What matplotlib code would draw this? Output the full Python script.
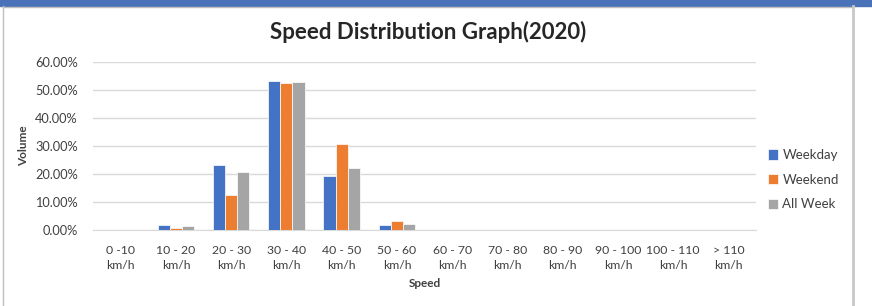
import numpy as np
import matplotlib
matplotlib.use("Agg")
import matplotlib.pyplot as plt
from matplotlib.patches import Rectangle
from matplotlib.lines import Line2D
from matplotlib.ticker import FuncFormatter

plt.rcParams['font.family'] = ['Lato', 'DejaVu Sans']

categories = ["0 -10\nkm/h", "10 - 20\nkm/h", "20 - 30\nkm/h", "30 - 40\nkm/h",
              "40 - 50\nkm/h", "50 - 60\nkm/h", "60 - 70\nkm/h", "70 - 80\nkm/h",
              "80 - 90\nkm/h", "90 - 100\nkm/h", "100 - 110\nkm/h", "> 110\nkm/h"]
weekday = [0.0, 1.9, 23.2, 53.1, 19.3, 1.7, 0.1, 0, 0, 0, 0, 0]
weekend = [0.0, 0.7, 12.5, 52.4, 30.8, 3.1, 0.05, 0, 0, 0, 0, 0]
all_week = [0.0, 1.5, 20.6, 52.9, 22.3, 2.0, 0.1, 0, 0, 0, 0, 0]
series = [("Weekday", weekday, "#4472C4"),
          ("Weekend", weekend, "#ED7D31"),
          ("All Week", all_week, "#A5A5A5")]

W, H = 872, 306
fig = plt.figure(figsize=(W / 100, H / 100), dpi=100)

# frame decorations (blue band, chart border)
fig.patches.append(Rectangle((0, 1 - 6 / H), 1, 6 / H, transform=fig.transFigure,
                             color="#4A72B8", zorder=0))
fig.lines.append(Line2D([3 / W, 3 / W], [0, 1 - 6 / H], transform=fig.transFigure,
                        color="#BFBFBF", lw=1))
fig.lines.append(Line2D([3 / W, 853 / W], [1 - 6.5 / H, 1 - 6.5 / H], transform=fig.transFigure,
                        color="#BFBFBF", lw=1))
fig.lines.append(Line2D([853 / W, 853 / W], [0, 1 - 6 / H], transform=fig.transFigure,
                        color="#C8C8C8", lw=2))

ax = fig.add_axes([93 / W, 1 - 230 / H, (756 - 93) / W, (230 - 62) / H])

x = np.arange(len(categories))
bw = 0.22
for i, (name, vals, col) in enumerate(series):
    ax.bar(x + (i - 1) * bw, vals, bw, color=col, label=name,
           edgecolor="white", linewidth=0.5, zorder=3)

ax.set_xlim(-0.5, len(categories) - 0.5)
ax.set_ylim(0, 60)
ax.set_yticks(np.arange(0, 61, 10))
ax.yaxis.set_major_formatter(FuncFormatter(lambda v, p: f"{v:.2f}%"))
ax.set_xticks(x)
ax.set_xticklabels(categories, fontsize=8.8, color="#404040", linespacing=1.45)
ax.tick_params(axis="y", labelsize=9.2, labelcolor="#404040", length=0, pad=11)
ax.tick_params(axis="x", length=0, pad=11)
ax.grid(axis="y", color="#D9D9D9", lw=1, zorder=0)
for s in ["top", "right", "left"]:
    ax.spines[s].set_visible(False)
ax.spines["bottom"].set_color("#D9D9D9")

ax.set_ylabel("Volume", fontsize=8.5, fontweight="bold", color="#404040")
ax.yaxis.set_label_coords(-0.0965, 0.5)
ax.set_xlabel("Speed", fontsize=8.5, fontweight="bold", color="#404040", va="center")
ax.xaxis.set_label_coords(0.5, -0.32)
fig.text(428 / W, 1 - 32 / H, "Speed Distribution Graph(2020)", fontsize=16,
         fontweight="bold", color="#262626", ha="center", va="center")

ax.legend(loc="center left", bbox_to_anchor=(1.0, 0.30), frameon=False, fontsize=9.5,
          handlelength=0.8, handleheight=0.8, handletextpad=0.3, labelspacing=0.95,
          labelcolor="#404040")

fig.savefig("out.png", dpi=100)
